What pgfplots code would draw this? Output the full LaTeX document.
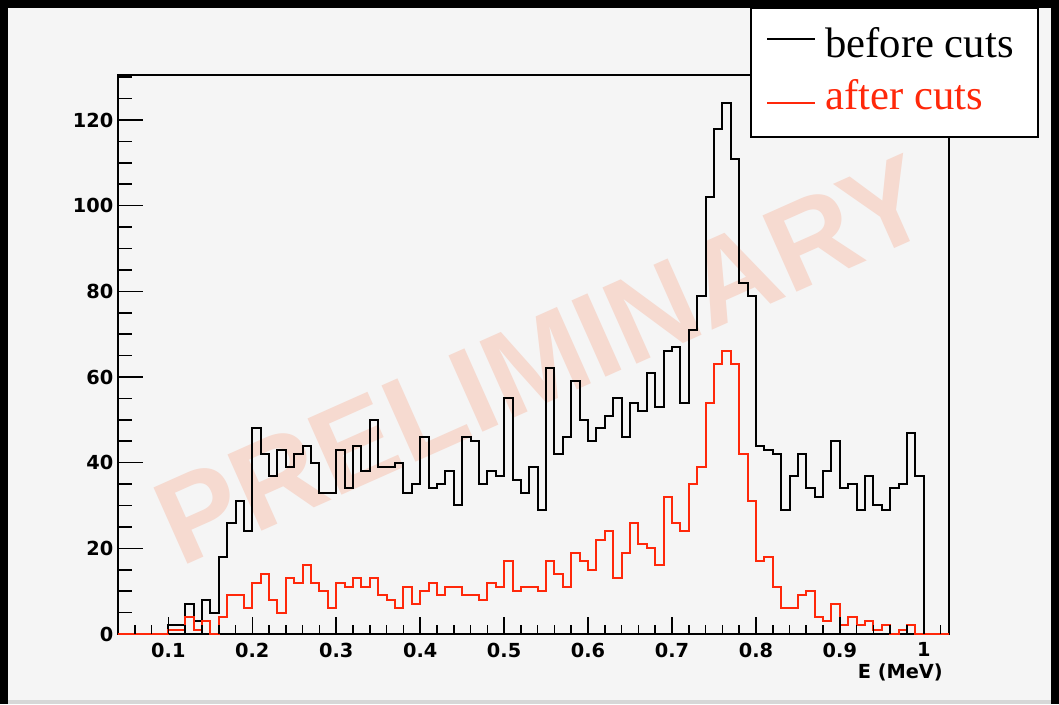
\documentclass[border=0pt]{standalone}
\usepackage{fontspec}
\setmainfont{Liberation Serif}
\newfontfamily\ticfont{DejaVu Sans}
\newfontfamily\wmfont{Liberation Sans}
\usepackage{pgfplots}
\usepackage{pgfplotstable}
\pgfplotsset{compat=1.18}
\definecolor{hred}{RGB}{255,40,10}
\definecolor{canvas}{RGB}{245,245,245}
\definecolor{wm}{RGB}{246,218,208}
\definecolor{bottomband}{RGB}{215,215,215}

\pgfplotstableread{
x b r
0.04 0 0
0.05 0 0
0.06 0 0
0.07 0 0
0.08 0 0
0.09 0 0
0.10 2 1
0.11 2 1
0.12 7 4
0.13 3 1
0.14 8 3
0.15 5 0
0.16 18 4
0.17 26 9
0.18 31 9
0.19 24 6
0.20 48 12
0.21 42 14
0.22 37 8
0.23 43 5
0.24 39 13
0.25 42 12
0.26 44 16
0.27 40 12
0.28 33 10
0.29 33 6
0.30 43 12
0.31 34 11
0.32 44 13
0.33 38 11
0.34 50 13
0.35 39 9
0.36 39 8
0.37 40 6
0.38 33 11
0.39 35 7
0.40 46 10
0.41 34 12
0.42 35 9
0.43 38 11
0.44 30 11
0.45 46 9
0.46 45 9
0.47 35 8
0.48 38 12
0.49 37 11
0.50 55 17
0.51 36 10
0.52 33 11
0.53 39 11
0.54 29 10
0.55 62 17
0.56 42 14
0.57 46 11
0.58 59 19
0.59 50 17
0.60 45 15
0.61 48 22
0.62 51 24
0.63 55 13
0.64 46 19
0.65 54 26
0.66 52 21
0.67 61 20
0.68 53 16
0.69 66 32
0.70 67 26
0.71 54 24
0.72 71 35
0.73 79 39
0.74 102 54
0.75 118 63
0.76 124 66
0.77 111 63
0.78 82 42
0.79 79 31
0.80 44 17
0.81 43 18
0.82 42 11
0.83 29 6
0.84 37 6
0.85 42 9
0.86 34 10
0.87 32 4
0.88 38 3
0.89 45 7
0.90 34 2
0.91 35 4
0.92 29 2
0.93 37 3
0.94 30 1
0.95 29 2
0.96 34 0
0.97 35 1
0.98 47 2
0.99 37 0
1.00 0 0
1.01 0 0
1.02 0 0
1.03 0 0
}\histdata

\begin{document}
\begin{tikzpicture}
% background in image-pixel coordinates
\begin{scope}[x=0.75pt,y=-0.75pt,shift={(-88.5pt,475.5pt)}]
  \fill[black] (0,0) rectangle (1059,704);
  \fill[canvas] (8,8) rectangle (1051,700);
  \fill[bottomband] (8,700) rectangle (1051,704);
  \node[rotate=24, text=wm, inner sep=0pt, font=\wmfont\bfseries\fontsize{91}{91}\selectfont] at (543,360) {PRELIMINARY};
\end{scope}

\begin{axis}[
  at={(0pt,0pt)}, anchor=south west,
  scale only axis, width=623.25pt, height=419.25pt,
  xmin=0.04, xmax=1.03, ymin=0, ymax=130.5,
  clip=false,
  axis line style={line width=1.2pt},
  xtick=\empty,
  ytick={0,20,40,60,80,100,120},
  yticklabels={0,20,40,60,80,100,120},
  minor ytick={5,10,15,25,30,35,45,50,55,65,70,75,85,90,95,105,110,115,125,130},
  ytick pos=left, tick align=inside,
  major tick length=18.75pt, minor tick length=10.5pt,
  tick style={line width=1.2pt, black},
  yticklabel style={font=\ticfont\bfseries\fontsize{14.5}{15}\selectfont},
]
\addplot[const plot, black, line width=1.5pt, line join=miter] table[x=x,y=b]{\histdata};
\addplot[const plot, hred, line width=1.5pt, line join=miter] table[x=x,y=r]{\histdata};
\end{axis}

\begin{axis}[
  at={(0pt,0pt)}, anchor=south west,
  scale only axis, width=623.25pt, height=419.25pt,
  xmin=0.04, xmax=1.03, ymin=0, ymax=130.5,
  axis line style={draw=none},
  ytick=\empty,
  xtick={0.1,0.2,0.3,0.4,0.5,0.6,0.7,0.8,0.9,1},
  xticklabels={0.1,0.2,0.3,0.4,0.5,0.6,0.7,0.8,0.9,1},
  minor xtick={0.06,0.08,0.12,0.14,0.16,0.18,0.22,0.24,0.26,0.28,0.32,0.34,0.36,0.38,0.42,0.44,0.46,0.48,0.52,0.54,0.56,0.58,0.62,0.64,0.66,0.68,0.72,0.74,0.76,0.78,0.82,0.84,0.86,0.88,0.92,0.94,0.96,0.98,1.02},
  xtick pos=left, tick align=inside,
  major tick length=12.75pt, minor tick length=7.1pt,
  tick style={line width=1.2pt, black},
  xticklabel style={font=\ticfont\bfseries\fontsize{14.5}{15}\selectfont, yshift=-3pt},
  xlabel={E (MeV)},
  xlabel style={at={(axis description cs:0.9928,-0.052)}, anchor=north east, inner sep=0pt, font=\ticfont\bfseries\fontsize{14.5}{15}\selectfont},
]
\end{axis}

% legend box in image-pixel coordinates
\begin{scope}[x=0.75pt,y=-0.75pt,shift={(-88.5pt,475.5pt)}]
  \filldraw[fill=white, draw=black, line width=1.1pt] (751,8) rectangle (1038,137);
  \draw[black, line width=1.2pt] (767,39) -- (815,39);
  \draw[hred, line width=1.2pt] (767,103) -- (815,103);
  \node[anchor=base west, inner sep=0pt, font=\fontsize{32}{34}\selectfont] at (825,58) {before cuts};
  \node[anchor=base west, inner sep=0pt, text=hred, font=\fontsize{32}{34}\selectfont] at (825,110) {after cuts};
\end{scope}
\end{tikzpicture}
\end{document}
